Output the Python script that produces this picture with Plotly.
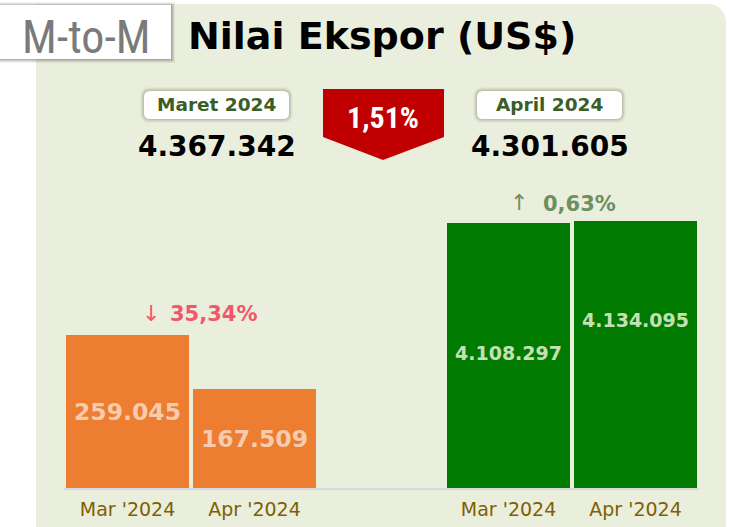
import plotly.graph_objects as go

# ---------------- data ----------------
months = ["Mar '2024", "Apr '2024"]
migas = [259045, 167509]          # orange bars
nonmigas = [4108297, 4134095]     # green bars
total_labels = ["Maret 2024", "April 2024"]
totals = [4367342, 4301605]

def idn(v):
    return f"{v:,}".replace(",", ".")

def pct(a, b):
    return f"{abs((b - a) / a * 100):.2f}".replace(".", ",") + "%"

# ---------------- geometry helpers ----------------
FW, FH = 730, 527
L, R, T, B = 64, 699, 200, 488
W, H = R - L, B - T

def px(x):
    return (x - L) / W

def py(y):
    return (B - y) / H

def rrect(x0, y0, x1, y1, r):
    return (f"M {px(x0+r)},{py(y0)} L {px(x1-r)},{py(y0)} Q {px(x1)},{py(y0)} {px(x1)},{py(y0+r)} "
            f"L {px(x1)},{py(y1-r)} Q {px(x1)},{py(y1)} {px(x1-r)},{py(y1)} "
            f"L {px(x0+r)},{py(y1)} Q {px(x0)},{py(y1)} {px(x0)},{py(y1-r)} "
            f"L {px(x0)},{py(y0+r)} Q {px(x0)},{py(y0)} {px(x0+r)},{py(y0)} Z")

BG = "#eaeedd"
ORANGE = "#ed7d31"
GREEN = "#007a00"

shapes = []
# panel with rounded top-right corner
rc = 20
shapes.append(dict(type="path", xref="paper", yref="paper", layer="below",
                   path=(f"M {px(36)},{py(540)} L {px(36)},{py(4)} L {px(726-rc)},{py(4)} "
                         f"Q {px(726)},{py(4)} {px(726)},{py(4+rc)} L {px(726)},{py(540)} Z"),
                   fillcolor=BG, line=dict(width=0)))
# M-to-M box with shadow
for d, a in [(4, 0.05), (3, 0.07), (2, 0.09), (1, 0.12)]:
    shapes.append(dict(type="rect", xref="paper", yref="paper", layer="below",
                       x0=px(-5), x1=px(171 + d), y0=py(5 - d + 1), y1=py(59 + d),
                       fillcolor=f"rgba(0,0,0,{a})", line=dict(width=0)))
shapes.append(dict(type="rect", xref="paper", yref="paper", layer="below",
                   x0=px(-5), x1=px(171), y0=py(5), y1=py(59),
                   fillcolor="white", line=dict(width=0)))
# month label boxes with glow
for (x0, x1) in [(144, 289), (477, 622)]:
    for d, a in [(4, 0.04), (3, 0.06), (2, 0.08), (1, 0.10)]:
        shapes.append(dict(type="path", xref="paper", yref="paper", layer="below",
                           path=rrect(x0 - d, 91 - d, x1 + d, 119 + d, 6 + d),
                           fillcolor=f"rgba(60,70,40,{a})", line=dict(width=0)))
    shapes.append(dict(type="path", xref="paper", yref="paper", layer="below",
                       path=rrect(x0, 91, x1, 119, 6),
                       fillcolor="white", line=dict(width=0)))
# red pentagon
shapes.append(dict(type="path", xref="paper", yref="paper", layer="below",
                   path=(f"M {px(323)},{py(89)} L {px(444)},{py(89)} L {px(444)},{py(137)} "
                         f"L {px(383)},{py(160)} L {px(323)},{py(137)} Z"),
                   fillcolor="#c00000", line=dict(width=0)))

fig = go.Figure()
x_or = [0, 1]
x_gr = [3, 4]
fig.add_trace(go.Bar(x=x_or, y=migas, yaxis="y2", width=0.97, name="Migas",
                     marker=dict(color=ORANGE, line=dict(width=0)), hoverinfo="skip"))
fig.add_trace(go.Bar(x=x_gr, y=nonmigas, yaxis="y", width=0.97, name="Non Migas",
                     marker=dict(color=GREEN, line=dict(width=0)), hoverinfo="skip"))

ann = []
TAH = "DejaVu Sans"
NAR = "Liberation Sans Narrow, Arial Narrow, Roboto Condensed, Roboto, sans-serif"

def text(x, y, s, size, color, family=TAH, weight="bold"):
    ann.append(dict(xref="paper", yref="paper", x=px(x), y=py(y), text=s, showarrow=False,
                    xanchor="center", yanchor="middle",
                    font=dict(family=family, size=size, color=color, weight=weight)))

text(86, 37, "M-to-M", 46, "#7a7a7a", family=NAR, weight="normal")
text(382, 36, "Nilai Ekspor (US$)", 38, "black")
text(216, 105, total_labels[0], 18.5, "#3a5e26")
text(549, 105, total_labels[1], 18.5, "#3a5e26")
text(217, 146, idn(totals[0]), 28, "black")
text(550, 146, idn(totals[1]), 28, "black")
text(383, 117, pct(totals[0], totals[1]), 30, "white", family=NAR, weight="bold")

# bar value labels
lab_frac_or = [0.5, 0.5]
lab_frac_gr = [0.51, 0.63]
for xi, v, f in zip(x_or, migas, lab_frac_or):
    ann.append(dict(xref="x", yref="y2", x=xi, y=v * f, text=idn(v), showarrow=False,
                    font=dict(family=TAH, size=23.5, color="#f8cbad", weight="bold")))
for xi, v, f in zip(x_gr, nonmigas, lab_frac_gr):
    ann.append(dict(xref="x", yref="y", x=xi, y=v * f, text=idn(v), showarrow=False,
                    font=dict(family=TAH, size=19, color="#c5e0b4", weight="bold")))

# change annotations
ann.append(dict(xref="x", yref="y2", x=0.5, y=migas[0], yshift=21, xshift=22,
                text=pct(migas[0], migas[1]), showarrow=False,
                font=dict(family=TAH, size=21, color="#f2566b", weight="bold")))
ann.append(dict(xref="x", yref="y2", x=0.5, y=migas[0], yshift=22, xshift=-40,
                text="↓", showarrow=False,
                font=dict(family=TAH, size=22, color="#f2566b", weight="normal")))
ann.append(dict(xref="x", yref="y", x=3.5, y=max(nonmigas), yshift=17, xshift=7,
                text=pct(nonmigas[0], nonmigas[1]), showarrow=False,
                font=dict(family=TAH, size=21, color="#6e8f5f", weight="bold")))
ann.append(dict(xref="x", yref="y", x=3.5, y=max(nonmigas), yshift=18, xshift=-53,
                text="↑", showarrow=False,
                font=dict(family=TAH, size=22, color="#6e8f5f", weight="normal")))

fig.update_layout(
    width=FW, height=FH,
    margin=dict(l=L, r=FW - R, t=T, b=FH - B, autoexpand=False),
    paper_bgcolor="white", plot_bgcolor="rgba(0,0,0,0)",
    showlegend=False, bargap=0,
    shapes=shapes, annotations=ann,
    xaxis=dict(range=[-0.5, 4.5], tickvals=x_or + x_gr, ticktext=months + months,
               showline=True, linecolor="#d9d9d9", linewidth=2, ticks="",
               showgrid=False, zeroline=False, ticklabelstandoff=3, automargin=False,
               tickfont=dict(family=TAH, size=19, color="#7f6000")),
    yaxis=dict(range=[0, 4459000], visible=False, showgrid=False, zeroline=False, automargin=False),
    yaxis2=dict(range=[0, 487600], overlaying="y", visible=False, showgrid=False,
                zeroline=False, automargin=False),
)

fig.write_html("out.html", config={"displayModeBar": False},
               post_script="document.documentElement.style.overflow='hidden';"
                           "document.body.style.margin='0px';document.body.style.overflow='hidden';")
